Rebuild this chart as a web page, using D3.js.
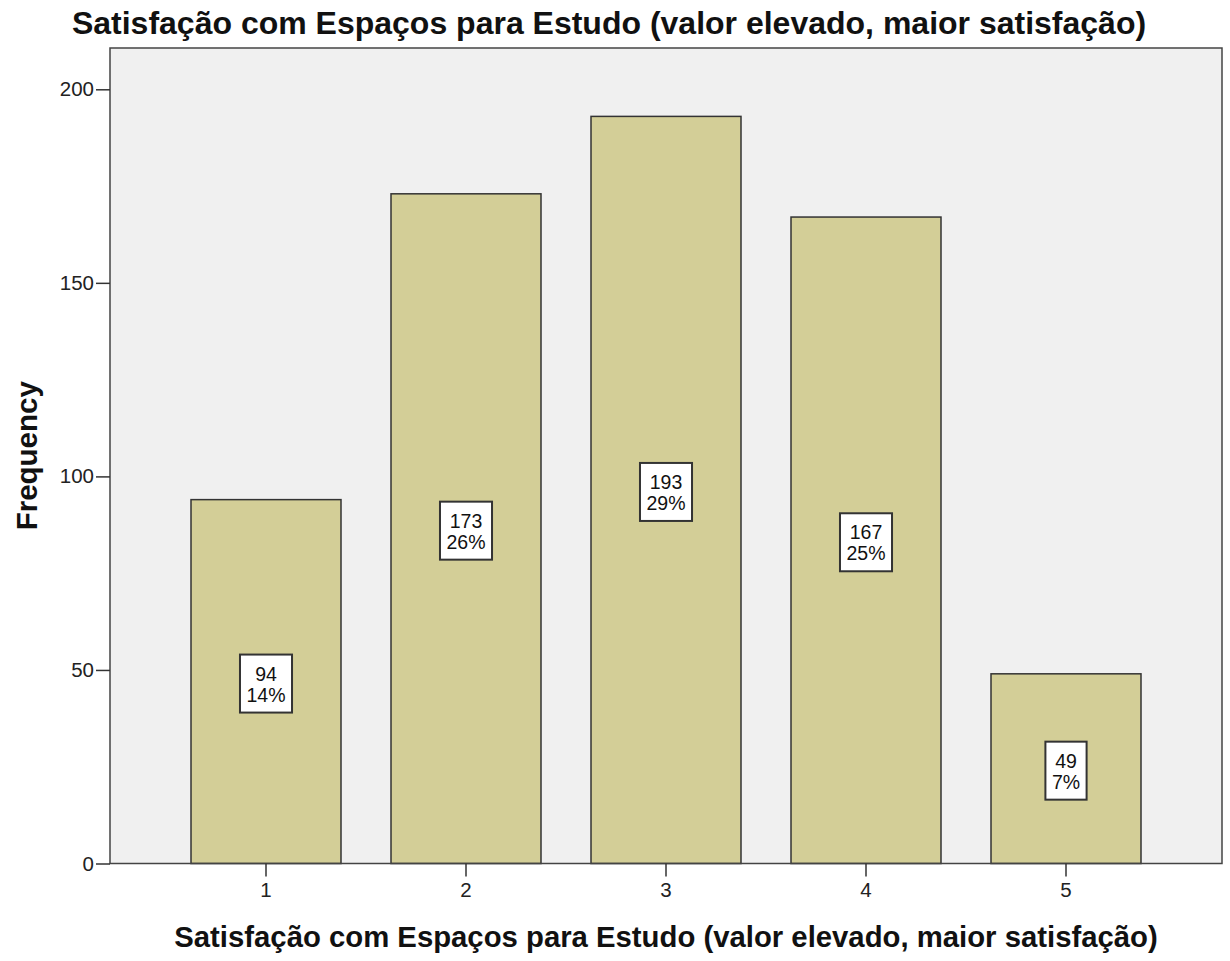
<!DOCTYPE html>
<html><head><meta charset="utf-8">
<script src="https://cdn.jsdelivr.net/npm/d3@7"></script>
<style>body{margin:0;background:#fff}text{font-family:"Liberation Sans",Arial,sans-serif}</style>
</head><body>
<svg id="c" width="1230" height="961"></svg>
<script>
const categories = ["1","2","3","4","5"];
const counts = [94,173,193,167,49];
const percents = ["14%","26%","29%","25%","7%"];
const yTicks = [0,50,100,150,200];
const titleText = "Satisfação com Espaços para Estudo (valor elevado, maior satisfação)";
const xTitle = "Satisfação com Espaços para Estudo (valor elevado, maior satisfação)";
const yTitle = "Frequency";

const svg = d3.select("#c");
svg.append("rect").attr("width",1230).attr("height",961).attr("fill","#fff");
const L=110, R=1222, T=48, B=863.5;
const x = d3.scaleBand().domain(categories).range([L,R]).paddingInner(0.25).paddingOuter(0.405);
const y = d3.scaleLinear().domain([0,200]).range([B,89.3]);

svg.append("rect").attr("x",L).attr("y",T).attr("width",R-L).attr("height",B-T).attr("fill","#f0f0f0");

svg.selectAll(".bar").data(counts).enter().append("rect")
  .attr("x",(d,i)=>x(categories[i])).attr("width",x.bandwidth())
  .attr("y",d=>y(d)).attr("height",d=>y(0)-y(d))
  .attr("fill","#d3ce97").attr("stroke","#333").attr("stroke-width",1.5);

svg.append("rect").attr("x",L).attr("y",T).attr("width",R-L).attr("height",B-T).attr("fill","none").attr("stroke","#444").attr("stroke-width",1.5);

// y axis
const ya = svg.append("g").attr("transform",`translate(${L},0)`)
  .call(d3.axisLeft(y).tickValues(yTicks).tickSize(14).tickPadding(2).tickFormat(d3.format("d")));
ya.select(".domain").remove();
ya.selectAll("line").attr("stroke","#333").attr("stroke-width",1.5);
ya.selectAll("text").attr("font-size",20.5).attr("fill","#222").style("font-family","Liberation Sans, Arial");

const xa = svg.append("g").attr("transform",`translate(0,${B})`)
  .call(d3.axisBottom(x).tickSize(13).tickPadding(6));
xa.select(".domain").remove();
xa.selectAll("line").attr("stroke","#333").attr("stroke-width",1.5);
xa.selectAll("text").attr("font-size",20.5).attr("fill","#222").style("font-family","Liberation Sans, Arial");

// data labels
counts.forEach((v,i)=>{
  const cx = x(categories[i]) + x.bandwidth()/2;
  const cy = y(v/2) + 2;
  const g = svg.append("g");
  const r = g.append("rect");
  const t1 = g.append("text").attr("x",cx).attr("y",cy-3).attr("text-anchor","middle").attr("font-size",19.5).attr("fill","#111").text(v);
  const t2 = g.append("text").attr("x",cx).attr("y",cy+18).attr("text-anchor","middle").attr("font-size",19.5).attr("fill","#111").text(percents[i]);
  const w = Math.max(t1.node().getComputedTextLength(), t2.node().getComputedTextLength()) + 13;
  r.attr("x",cx-w/2).attr("y",cy-29).attr("width",w).attr("height",58).attr("fill","#fff").attr("stroke","#333").attr("stroke-width",2);
});

svg.append("text").attr("x",609).attr("y",34).attr("text-anchor","middle").attr("font-size",32).attr("font-weight","bold").attr("fill","#111").text(titleText);
svg.append("text").attr("x",(L+R)/2).attr("y",947).attr("text-anchor","middle").attr("font-size",29.3).attr("font-weight","bold").attr("fill","#111").text(xTitle);
svg.append("text").attr("transform",`translate(37,${(T+B)/2}) rotate(-90)`).attr("text-anchor","middle").attr("font-size",29.5).attr("font-weight","bold").attr("fill","#111").text(yTitle);
</script>
</body></html>
